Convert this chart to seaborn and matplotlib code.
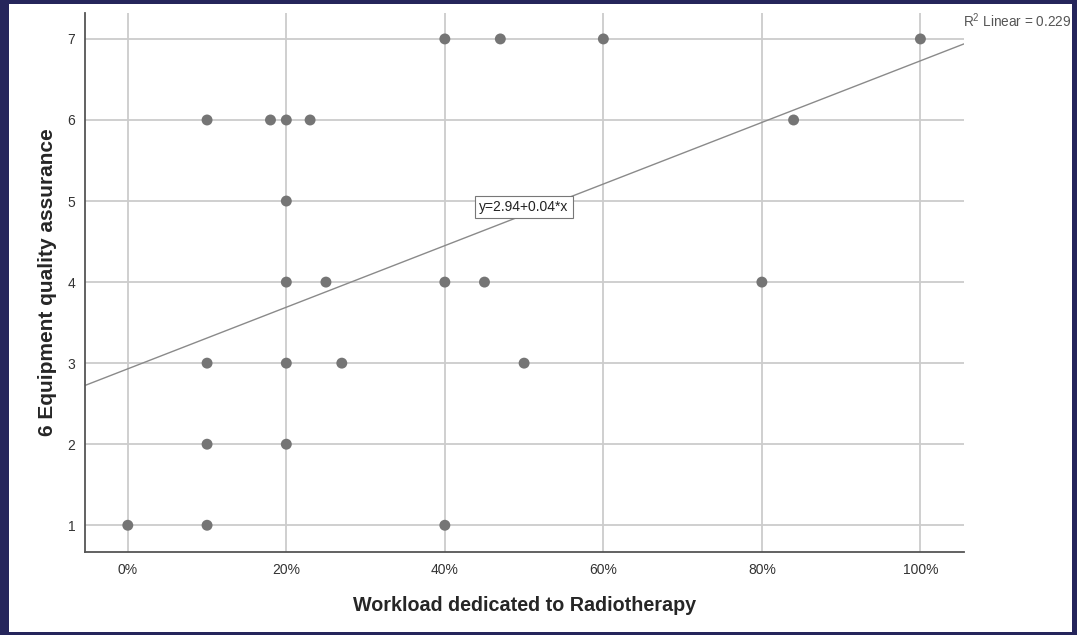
import numpy as np
import pandas as pd
import matplotlib
matplotlib.use("Agg")
import matplotlib.pyplot as plt
from matplotlib.patches import Rectangle
import seaborn as sns

# values
workload_pct = [40, 47, 60, 100,
                10, 18, 20, 23, 84,
                20,
                20, 25, 40, 45, 80,
                10, 20, 27, 50,
                10, 20,
                0, 10, 40]
qa_score = [7, 7, 7, 7,
            6, 6, 6, 6, 6,
            5,
            4, 4, 4, 4, 4,
            3, 3, 3, 3,
            2, 2,
            1, 1, 1]

# fit line as drawn (label rounds the slope)
fit_intercept = 2.93
fit_slope = 0.038
fit_label = "y=2.94+0.04*x"
r2_label = "R$^2$ Linear = 0.229"

x_ticks = [0, 20, 40, 60, 80, 100]
y_ticks = [1, 2, 3, 4, 5, 6, 7]

df = pd.DataFrame({"workload": workload_pct, "qa": qa_score})

sns.set_style("white")
plt.rcParams["font.family"] = ["Liberation Sans", "DejaVu Sans"]
plt.rcParams["mathtext.fontset"] = "custom"
plt.rcParams["mathtext.rm"] = "Liberation Sans"

fig = plt.figure(figsize=(10.77, 6.35), dpi=100)
fig.patch.set_facecolor("#25255b")
# white panel inside the navy frame
panel = Rectangle((9 / 1077, 3 / 635), 1063 / 1077, 628 / 635,
                  transform=fig.transFigure, facecolor="white",
                  edgecolor="none", zorder=-5)
fig.add_artist(panel)

ax = fig.add_axes([85 / 1077, 83 / 635, 879 / 1077, 539 / 635])
ax.set_facecolor("none")
ax.set_zorder(1)

ax.set_xlim(-5.4, 105.5)
ax.set_ylim(0.67, 7.32)
ax.set_xticks(x_ticks)
ax.set_xticklabels([f"{t}%" for t in x_ticks])
ax.set_yticks(y_ticks)

ax.grid(True, color="#cccccc", linewidth=1.3)
ax.set_axisbelow(True)

ax.axline((0, fit_intercept), slope=fit_slope, color="#8a8a8a", linewidth=1.0, zorder=2)

sns.scatterplot(data=df, x="workload", y="qa", ax=ax, color="#757575",
                s=62, edgecolor="none", zorder=3, clip_on=False)

ax.text(50, fit_intercept + fit_slope * 50 + 0.1, fit_label, fontsize=10,
        ha="center", va="center", color="#222222", zorder=4,
        bbox=dict(boxstyle="square,pad=0.3", facecolor="white",
                  edgecolor="#777777", linewidth=0.8))

fig.text(1071 / 1077, 1 - 21 / 635, r2_label, fontsize=9.8, color="#555555",
         ha="right", va="center")

for side in ["top", "right"]:
    ax.spines[side].set_visible(False)
for side in ["left", "bottom"]:
    ax.spines[side].set_color("#555555")
    ax.spines[side].set_linewidth(1.3)

ax.tick_params(axis="both", length=0, labelsize=10, colors="#333333")
ax.tick_params(axis="y", pad=7)
ax.tick_params(axis="x", pad=8)

ax.set_xlabel("Workload dedicated to Radiotherapy", fontsize=14.2, fontweight="bold")
ax.set_ylabel("6 Equipment quality assurance", fontsize=15, fontweight="bold")
ax.xaxis.set_label_coords(0.5, -0.081)
ax.yaxis.set_label_coords(-0.032, 0.5)

fig.savefig("out.png", dpi=100, facecolor=fig.get_facecolor())
